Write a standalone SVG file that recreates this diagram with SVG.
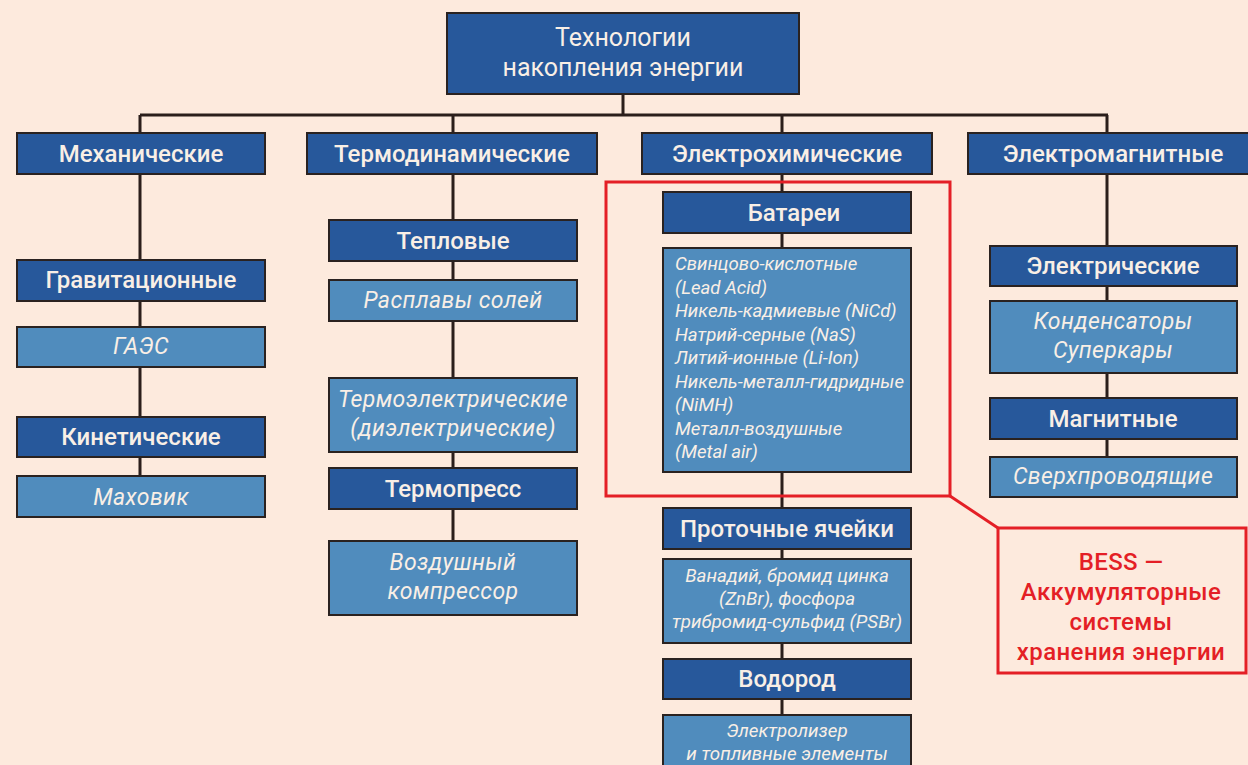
<svg xmlns="http://www.w3.org/2000/svg" width="1248" height="765" viewBox="0 0 1248 765">
<style>
.bg{fill:#fdeadd}
.d{fill:#27589b;stroke:#2a2220;stroke-width:2}
.l{fill:#508cbd;stroke:#2a2220;stroke-width:2}
.c{stroke:#2b1e1b;stroke-width:3;fill:none}
.r{stroke:#e41f26;stroke-width:3;fill:none}
text{font-family:Roboto,"Liberation Sans",sans-serif;fill:#f9efe6}
.h{font-size:24px;font-weight:500;text-anchor:middle}
.i{font-size:23px;font-style:italic;font-weight:400;text-anchor:middle;letter-spacing:0.4px}
.s{font-size:18.6px;font-style:italic;font-weight:400}
.v{font-size:18.8px;font-style:italic;font-weight:400;text-anchor:middle}
.t{font-size:25px;font-weight:400;text-anchor:middle}
.b{font-size:24px;font-weight:500;text-anchor:middle;fill:#e41f26;letter-spacing:0.4px}
</style>
<rect class="bg" x="0" y="0" width="1248" height="765"/>
<g id="connectors">
<path class="c" d="M623,94V115M140,115H1108M140,115V133M453,115V133M782,115V133M1107,115V133"/>
<path class="c" d="M140,174V476"/>
<path class="c" d="M453,174V541"/>
<path class="c" d="M782,174V765"/>
<path class="c" d="M1107,174V457"/>
</g>
<g id="root"><rect class="d" x="447" y="13" width="352" height="81"/><text class="t" x="623" y="46">Технологии</text><text class="t" x="623" y="76">накопления энергии</text></g>
<g id="mech"><rect class="d" x="17" y="133" width="248" height="41"/><text class="h" x="141" y="162">Механические</text></g>
<g id="thermo"><rect class="d" x="307" y="133" width="290" height="41"/><text class="h" x="452" y="162">Термодинамические</text></g>
<g id="echem"><rect class="d" x="642" y="133" width="290" height="41"/><text class="h" x="787" y="162">Электрохимические</text></g>
<g id="emag"><rect class="d" x="968" y="133" width="290" height="41"/><text class="h" x="1113" y="162">Электромагнитные</text></g>
<g id="grav"><rect class="d" x="17" y="260" width="248" height="41"/><text class="h" x="141" y="288">Гравитационные</text></g>
<g id="gaes"><rect class="l" x="17" y="327" width="248" height="40"/><text class="i" x="141" y="354">ГАЭС</text></g>
<g id="kin"><rect class="d" x="17" y="417" width="248" height="40"/><text class="h" x="141" y="445">Кинетические</text></g>
<g id="flywheel"><rect class="l" x="17" y="476" width="248" height="41"/><text class="i" x="141" y="505">Маховик</text></g>
<g id="heat"><rect class="d" x="329" y="220" width="248" height="41"/><text class="h" x="453" y="249">Тепловые</text></g>
<g id="salts"><rect class="l" x="329" y="280" width="248" height="41"/><text class="i" x="453" y="308">Расплавы солей</text></g>
<g id="thermoel"><rect class="l" x="329" y="378" width="248" height="74"/><text class="i" x="453" y="407">Термоэлектрические</text><text class="i" x="453" y="436">(диэлектрические)</text></g>
<g id="thermopress"><rect class="d" x="329" y="468" width="248" height="41"/><text class="h" x="453" y="497">Термопресс</text></g>
<g id="aircomp"><rect class="l" x="329" y="541" width="248" height="74"/><text class="i" x="453" y="570">Воздушный</text><text class="i" x="453" y="599">компрессор</text></g>
<g id="batteries"><rect class="d" x="663" y="192" width="248" height="41"/><text class="h" x="794" y="221">Батареи</text></g>
<g id="batlist"><rect class="l" x="663" y="248" width="248" height="224"/>
<text class="s" x="675" y="270">Свинцово-кислотные</text>
<text class="s" x="675" y="294">(Lead Acid)</text>
<text class="s" x="675" y="317">Никель-кадмиевые (NiCd)</text>
<text class="s" x="675" y="341">Натрий-серные (NaS)</text>
<text class="s" x="675" y="364">Литий-ионные (Li-Ion)</text>
<text class="s" x="675" y="388">Никель-металл-гидридные</text>
<text class="s" x="675" y="411">(NiMH)</text>
<text class="s" x="675" y="435">Металл-воздушные</text>
<text class="s" x="675" y="458">(Metal air)</text></g>
<g id="flow"><rect class="d" x="663" y="508" width="248" height="41"/><text class="h" x="787" y="537">Проточные ячейки</text></g>
<g id="flowlist"><rect class="l" x="663" y="559" width="248" height="84"/><text class="v" x="787" y="582">Ванадий, бромид цинка</text><text class="v" x="787" y="605">(ZnBr), фосфора</text><text class="v" x="787" y="628">трибромид-сульфид (PSBr)</text></g>
<g id="hydrogen"><rect class="d" x="663" y="659" width="248" height="40"/><text class="h" x="787" y="687">Водород</text></g>
<g id="electrolyzer"><rect class="l" x="663" y="715" width="248" height="60"/><text class="v" x="787" y="737">Электролизер</text><text class="v" x="787" y="760">и топливные элементы</text></g>
<g id="elec"><rect class="d" x="990" y="246" width="247" height="40"/><text class="h" x="1113" y="274">Электрические</text></g>
<g id="caps"><rect class="l" x="990" y="301" width="247" height="72"/><text class="i" x="1113" y="329">Конденсаторы</text><text class="i" x="1113" y="358">Суперкары</text></g>
<g id="magn"><rect class="d" x="990" y="398" width="247" height="41"/><text class="h" x="1113" y="427">Магнитные</text></g>
<g id="superc"><rect class="l" x="990" y="457" width="247" height="40"/><text class="i" x="1113" y="484">Сверхпроводящие</text></g>
<g id="bess">
<rect class="r" x="606" y="182" width="344" height="314"/>
<path class="r" d="M950,496L998,528"/>
<rect class="r" x="998" y="528" width="248" height="145" style="fill:#fdeadd"/>
<text class="b" x="1121" y="570">BESS —</text>
<text class="b" x="1121" y="600">Аккумуляторные</text>
<text class="b" x="1121" y="630">системы</text>
<text class="b" x="1121" y="660">хранения энергии</text>
</g>
</svg>
